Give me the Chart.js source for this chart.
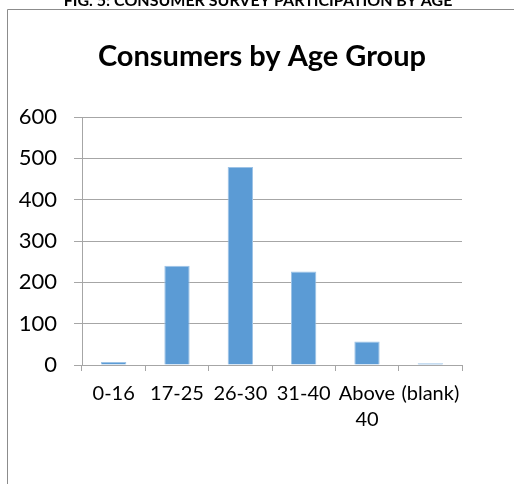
<!DOCTYPE html>
<html>
<head>
<meta charset="utf-8">
<script src="https://cdn.jsdelivr.net/npm/chart.js@4.4.0/dist/chart.umd.min.js"></script>
<style>
  html,body{margin:0;padding:0;background:#fff;}
  #wrap{position:relative;width:514px;height:484px;}
</style>
</head>
<body>
<div id="wrap"><canvas id="ageChart"></canvas></div>
<script>
// ── DATA ──
const ageGroups = ['0-16', '17-25', '26-30', '31-40', ['Above', '40'], '(blank)'];
const consumers = [7, 240, 479, 226, 57, 4];
const yTicks    = [0, 100, 200, 300, 400, 500, 600];

const FIG_CAPTION = 'FIG. 5: CONSUMER SURVEY PARTICIPATION BY AGE';
const CHART_TITLE = 'Consumers by Age Group';

const COLORS = { bar:'#5B9BD5', barEdge:'#9DC3E6', grid:'#A6A6A6', frame:'#8C8C8C', text:'#000' };
const FONT = "Lato, 'Open Sans', sans-serif";

// caption + chart frame + title drawn behind the plot
const framePlugin = {
  id:'frame',
  beforeDraw(chart){
    const ctx = chart.ctx;
    ctx.save();
    ctx.fillStyle = '#fff';
    ctx.fillRect(0,0,chart.width,chart.height);
    ctx.strokeStyle = COLORS.frame;
    ctx.lineWidth = 1;
    ctx.beginPath();
    ctx.moveTo(7.5, chart.height + 2);
    ctx.lineTo(7.5, 9.5);
    ctx.lineTo(chart.width + 2, 9.5);
    ctx.stroke();

    ctx.fillStyle = COLORS.text;
    ctx.textAlign = 'center';
    ctx.textBaseline = 'alphabetic';
    ctx.font = "bold 16px " + FONT;
    ctx.fillText(FIG_CAPTION, 258, 6, 443);

    ctx.font = "bold 29px " + FONT;
    ctx.fillText(CHART_TITLE, 262, 66);
    ctx.restore();
  }
};

const c = document.getElementById('ageChart');
new Chart(c.getContext('2d'), {
  type:'bar',
  data:{
    labels: ageGroups,
    datasets:[{
      data: consumers,
      backgroundColor: COLORS.bar,
      borderColor: COLORS.barEdge,
      borderWidth: {top:1, left:1, right:1, bottom:0},
      barPercentage: 0.4,
      categoryPercentage: 1.0
    }]
  },
  options:{
    responsive:true, maintainAspectRatio:false, animation:false,
    layout:{padding:{left:0, right:52, top:117, bottom:0}},
    plugins:{legend:{display:false}, title:{display:false}, tooltip:{enabled:false}},
    scales:{
      x:{
        grid:{display:true, drawOnChartArea:false, drawTicks:true, tickLength:6, color:COLORS.grid, lineWidth:1},
        border:{display:true, color:COLORS.grid, width:1},
        ticks:{color:COLORS.text, padding:10, maxRotation:0, autoSkip:false,
               font:{family:FONT, size:20, lineHeight:1.3}},
        afterFit(s){ s.height = 119; }
      },
      y:{
        min:0, max:600,
        afterBuildTicks(s){ s.ticks = yTicks.map(v => ({value:v})); },
        grid:{color:COLORS.grid, lineWidth:1, tickLength:8, drawTicks:true},
        border:{display:true, color:COLORS.grid, width:1},
        ticks:{color:COLORS.text, padding:17, font:{family:FONT, size:22}},
        afterFit(s){ s.width = 82; }
      }
    }
  },
  plugins:[framePlugin]
});
</script>
</body>
</html>
